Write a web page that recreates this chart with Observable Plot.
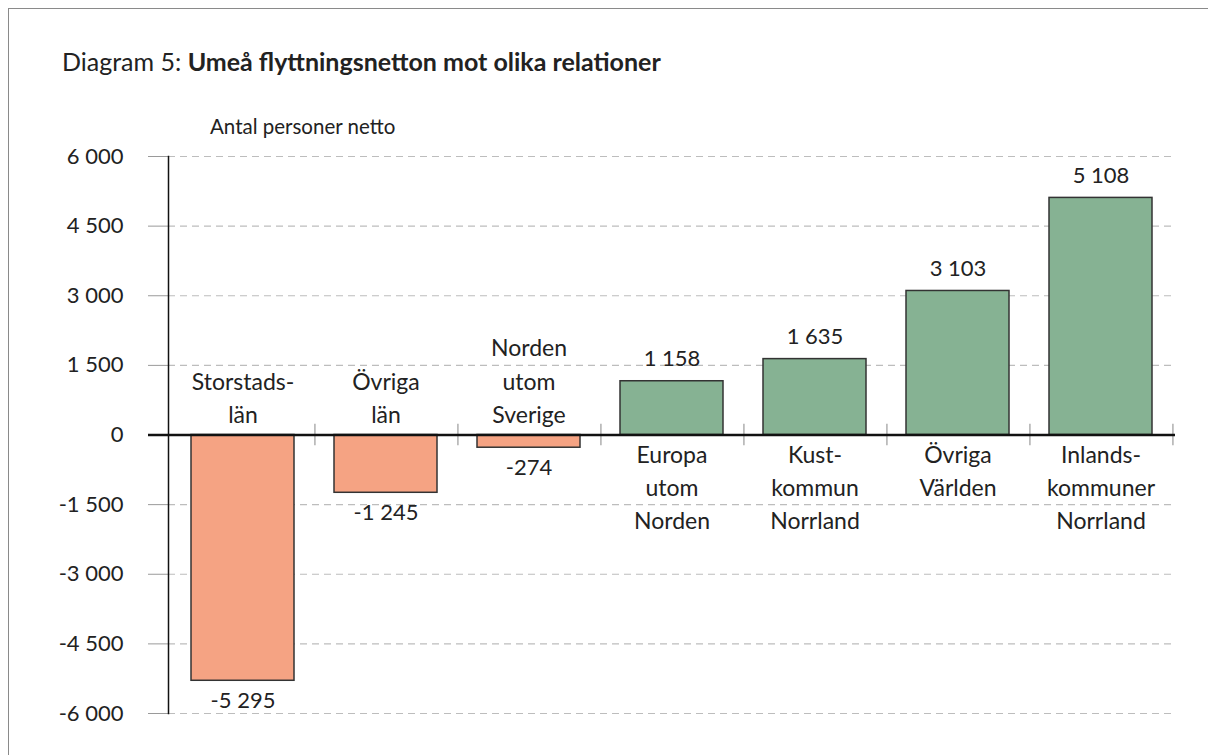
<!DOCTYPE html>
<html>
<head>
<meta charset="utf-8">
<script src="https://cdn.jsdelivr.net/npm/d3@7"></script>
<script src="https://cdn.jsdelivr.net/npm/@observablehq/plot@0.6"></script>
<style>
  body { margin: 0; background: #fff; width: 1208px; height: 755px; overflow: hidden; position: relative; font-family: Lato, "Open Sans", sans-serif; color: #222; }
  #frame { position: absolute; left: 8px; top: 8px; width: 1300px; height: 900px; border-left: 1.5px solid #8a8a8a; border-top: 1.5px solid #8a8a8a; }
  #title { position: absolute; left: 62px; top: 46px; font-size: 25px; white-space: nowrap; }
  #ylabel { position: absolute; left: 210px; top: 114px; font-size: 20.5px; white-space: nowrap; }
  #chart { position: absolute; left: 0; top: 100px; }
</style>
</head>
<body>
<div id="frame"></div>
<div id="title">Diagram 5: <b>Umeå flyttningsnetton mot olika relationer</b></div>
<div id="ylabel">Antal personer netto</div>
<div id="chart"></div>
<script>
const categories = ["Storstadslän", "Övriga län", "Norden utom Sverige", "Europa utom Norden", "Kustkommun Norrland", "Övriga Världen", "Inlandskommuner Norrland"];
const categoryLabels = ["Storstads-\nlän", "Övriga\nlän", "Norden\nutom\nSverige", "Europa\nutom\nNorden", "Kust-\nkommun\nNorrland", "Övriga\nVärlden", "Inlands-\nkommuner\nNorrland"];
const values = [-5295, -1245, -274, 1158, 1635, 3103, 5108];
const yTicks = [-6000, -4500, -3000, -1500, 0, 1500, 3000, 4500, 6000];

const data = categories.map((c, i) => ({cat: c, label: categoryLabels[i], value: values[i]}));
const fmt = v => d3.format(",")(v).replace(/,/g, " ").replace("−", "-");

const W = 1208, H = 655, mL = 168, mR = 33, mT = 56, mB = 42;
const half = (W - mL - mR) / categories.length / 2;
const FS = 20, VFS = 22, CFS = 23;

const chart = Plot.plot({
  width: W, height: H,
  marginLeft: mL, marginRight: mR, marginTop: mT, marginBottom: mB,
  style: {fontFamily: "Lato, 'Open Sans', sans-serif", fontSize: FS + "px", color: "#222", background: "transparent"},
  x: {domain: categories, paddingInner: 0.28, paddingOuter: 0.14, axis: null},
  y: {domain: [-6000, 6000], ticks: yTicks, axis: null},
  marks: [
    Plot.gridY(yTicks, {stroke: "#bdbdbd", strokeOpacity: 1, strokeDasharray: "7,5", strokeWidth: 1.2}),
    Plot.axisY(yTicks, {tickSize: 20, tickPadding: 25, stroke: "#9a9a9a", tickFormat: fmt, fontSize: 22, fill: "#222", label: null}),
    Plot.barY(data, {x: "cat", y: "value", fill: d => d.value < 0 ? "#f5a383" : "#86b293", stroke: "#333", strokeWidth: 1.5}),
    Plot.ruleX(categories, {x: d => d, dx: half, y1: -230, y2: 230, stroke: "#9a9a9a", strokeWidth: 1.2}),
    Plot.ruleY([0], {stroke: "#111", strokeWidth: 2.5, insetLeft: -20}),
    Plot.frame({anchor: "left", stroke: "#111", strokeWidth: 1.5}),
    Plot.text(data, {x: "cat", y: "value", text: d => fmt(d.value), fontSize: VFS, fill: "#222",
      lineAnchor: "middle", filter: d => d.value >= 0, dy: -22}),
    Plot.text(data, {x: "cat", y: "value", text: d => fmt(d.value), fontSize: VFS, fill: "#222",
      lineAnchor: "middle", filter: d => d.value < 0, dy: 20}),
    Plot.text(data, {x: "cat", y: 0, text: "label", fontSize: CFS, fill: "#222", lineHeight: 1.45,
      lineAnchor: "bottom", filter: d => d.value < 0, dy: -12}),
    Plot.text(data, {x: "cat", y: 0, text: "label", fontSize: CFS, fill: "#222", lineHeight: 1.45,
      lineAnchor: "top", filter: d => d.value >= 0, dy: 4})
  ]
});
document.getElementById("chart").append(chart);
</script>
</body>
</html>
